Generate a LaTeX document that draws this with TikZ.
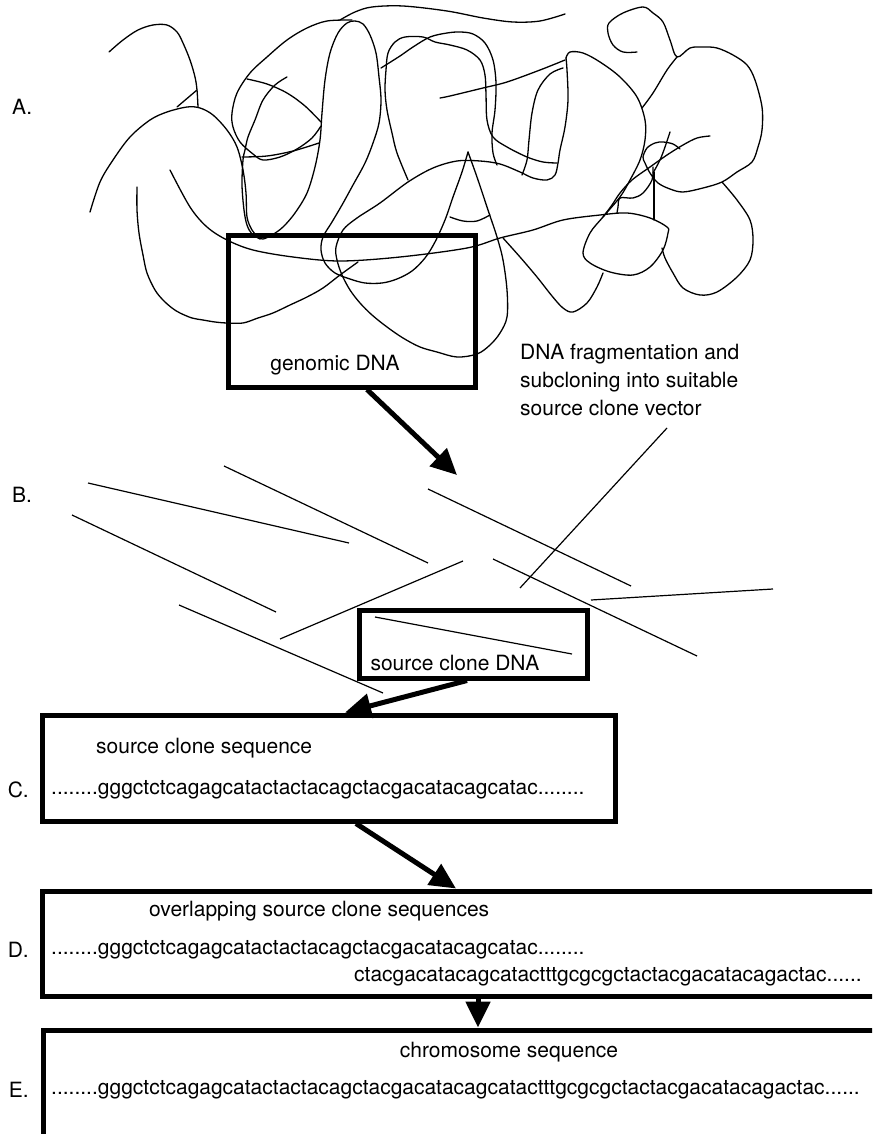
\documentclass[tikz,border=0pt]{standalone}
\usepackage{fontspec}
\setmainfont{TeX Gyre Heros}
\usetikzlibrary{arrows.meta,positioning}
\tikzset{>={Triangle[length=26pt,width=24pt]}}

\begin{document}
\begin{tikzpicture}[x=1pt,y=-1pt,
    strand/.style={line width=1.3pt,line join=round,line cap=round},
    fragment/.style={line width=1.2pt},
    stage/.style={draw,line width=5pt,inner sep=0pt},
    flow/.style={->,line width=5pt},
    txt/.style={font=\fontsize{21}{28}\selectfont,inner sep=0pt},
    node distance=22pt]
\path[use as bounding box,clip] (0,0) rectangle (872,1134);

% tangled genomic DNA
\draw[strand] plot[smooth,tension=0.55] coordinates {(109,52) (123,40) (138,30) (153,25) (167,25) (177,32) (183,43) (190,60) (195,77) (197,90) (198,107)};
\draw[strand] (177,107) -- (197,90);
\draw[strand] plot[smooth,tension=0.55] coordinates {(90,212) (100,182) (113,160) (130,137) (150,120) (167,112) (187,107) (200,108) (213,115) (227,130) (237,147) (243,170) (246,193) (247,217) (252,230) (258,237) (263,239) (272,235) (283,227) (295,213) (307,193) (315,167) (320,140) (322,113) (325,80) (330,53) (338,33) (347,23) (355,21) (363,24) (370,35) (376,53) (379,77) (381,100) (379,123) (373,143) (365,163) (353,185) (342,205) (332,222) (323,237) (321,250) (325,263) (335,273) (350,279) (365,283) (382,283) (397,279) (412,271) (425,258) (435,242) (445,220) (453,197) (462,172) (468,152)};
\draw[strand] plot[smooth,tension=0.55] coordinates {(468,152) (472,163) (478,180) (488,210) (497,237) (503,260) (507,290) (507,317) (500,333) (490,345) (477,354) (457,357) (437,352) (420,347) (403,338) (387,327) (372,315) (360,303) (350,290) (342,275) (337,260) (336,247) (343,230) (357,218) (380,203) (408,182) (433,168) (457,161) (480,161) (500,164) (520,172) (533,178) (547,180) (555,175) (558,163) (560,150) (565,127) (568,100) (567,70) (566,58)};
\draw[strand] plot[smooth,tension=0.55] coordinates {(566,58) (570,52) (583,53) (600,62) (620,77) (637,97) (645,120) (645,140) (640,160) (630,180) (620,197) (603,217) (590,233) (583,253) (590,263) (610,272) (633,275) (650,267) (663,250) (668,233) (667,227) (650,218) (627,213) (600,215) (563,220) (533,230) (500,238) (467,248) (400,257) (340,261) (293,257) (253,250) (227,240) (207,227) (190,207) (170,170)};
\draw[strand] plot[smooth,tension=0.55] coordinates {(137,187) (137,210) (139,233) (143,255) (147,273) (155,290) (163,300) (172,308) (180,313) (192,318) (203,320) (215,322) (227,323) (243,323) (258,318) (273,313) (290,305) (307,297) (323,288) (340,275) (358,262)};
\draw[strand] plot[smooth,tension=0.55] coordinates {(340,20) (355,12) (372,7) (403,6) (447,11) (483,18) (513,22) (540,21) (565,14)};
\draw[strand] plot[smooth,tension=0.55] coordinates {(352,20) (327,21) (307,28) (287,40) (267,57) (250,73) (237,93) (232,113) (233,127) (240,142) (253,154) (263,160) (280,157) (297,149) (312,138) (321,126)};
\draw[strand] plot[smooth,tension=0.55] coordinates {(247,79) (267,84) (287,93) (305,106) (321,122)};
\draw[strand] plot[smooth,tension=0.55] coordinates {(287,77) (275,85) (263,100) (255,120) (248,137) (245,150) (243,160) (242,185) (244,210) (247,225) (252,234) (260,239)};
\draw[strand] plot[smooth,tension=0.55] coordinates {(242,157) (267,156) (293,151) (319,143)};
\draw[strand] plot[smooth,tension=0.55] coordinates {(381,68) (400,56) (413,47) (430,37) (447,33) (460,32) (473,34) (485,43) (493,60) (496,83) (495,110) (492,133) (493,153) (497,165)};
\draw[strand] plot[smooth,tension=0.55] coordinates {(408,180) (397,153) (392,133) (387,110) (385,90) (386,70) (388,53) (395,42) (405,37) (423,37) (435,42) (450,45) (467,50) (480,60) (485,75) (486,95) (487,120) (493,137) (507,147) (527,157) (543,162) (557,163)};
\draw[strand] plot[smooth,tension=0.55] coordinates {(440,98) (450,96) (483,88) (507,82) (540,70) (565,60)};
\draw[strand] plot[smooth,tension=0.55] coordinates {(563,68) (550,74) (538,90) (532,113) (529,140) (527,160) (522,175)};
\draw[strand] plot[smooth,tension=0.55] coordinates {(637,52) (623,52) (613,45) (608,33) (609,23) (623,13) (643,7) (653,13) (663,22) (670,40) (677,57) (690,48) (703,47) (717,48) (733,55) (747,65) (755,80) (762,107) (762,130) (758,147) (752,162) (737,172) (722,182) (703,188) (683,192) (670,189) (658,183) (650,173) (645,163) (643,157) (647,148) (655,143) (663,142) (673,144) (680,149)};
\draw[strand] plot[smooth,tension=0.55] coordinates {(722,182) (737,200) (750,220) (753,240) (750,260) (737,277) (717,292) (700,295) (683,288) (673,273) (665,258) (662,248)};
\draw[strand] plot[smooth,tension=0.55] coordinates {(642,108) (653,93) (667,70) (677,57)};
\draw[strand] plot[smooth,tension=0.55] coordinates {(710,136) (697,138) (683,145) (667,155) (650,167) (632,180) (620,193) (612,205) (603,217)};
\draw[strand] plot[smooth,tension=0.55] coordinates {(670,132) (665,147) (660,160) (653,173)};
\draw[strand] plot[smooth,tension=0.55] coordinates {(653,167) (652,180) (643,193) (633,198) (620,198) (618,207) (617,213)};
\draw[strand] (654,172) -- (654,220);
\draw[strand] plot[smooth,tension=0.55] coordinates {(503,238) (520,257) (537,277) (552,296) (563,308) (573,312) (587,303) (597,287) (603,273)};
\draw[strand] plot[smooth,tension=0.55] coordinates {(450,217) (463,221) (477,221) (490,215)};

% fragments
\foreach \xa/\ya/\xb/\yb in {88/483/349/543, 224/466/428/563, 72/515/276/612,
    428/489/631/586, 463/561/280/639, 493/559/697/656, 179/605/383/693,
    591/600/773/589, 375/617/572/654}
  \draw[fragment] (\xa,\ya) -- (\xb,\yb);

\node[stage,minimum width=247pt,minimum height=152pt] (genomic) at (351.5,311) {};
\node[txt] (genomiclbl) at (335,365) {genomic DNA};
\node[txt,anchor=west,align=left] (fragnote) at (520,380)
  {DNA fragmentation and\\subcloning into suitable\\source clone vector};
\coordinate (leadtop) at (667,428);
\coordinate (leadend) at (520,588);
\draw[fragment] (leadtop) -- (leadend);

\node[stage,minimum width=228pt,minimum height=68pt] (srcbox) at (473,644) {};
\node[txt] (srclbl) at (455,663) {source clone DNA};

\node[stage,minimum width=573pt,minimum height=106pt] (cbox) at (328.5,768) {};
\node[stage,minimum width=843pt,minimum height=105pt] (dbox) at (463.5,943.5) {};
\node[stage,minimum width=842pt,minimum height=115pt] (ebox) at (464,1087.5) {};

\node[txt,anchor=west] (alabel) at (12,107) {A.};
\node[txt,anchor=west] (blabel) at (12,495) {B.};

\node[txt,anchor=west] (ctitle) at (96,748) {source clone sequence};
\node[txt,anchor=west] (cseq) at (51,790) {........gggctctcagagcatactactacagctacgacatacagcatac........};
\node[txt] (clabel) [left=of cseq] {C.};

\node[txt,anchor=west] (dtitle) at (149,911) {overlapping source clone sequences};
\node[txt,anchor=west] (dseq) at (51,950) {........gggctctcagagcatactactacagctacgacatacagcatac........};
\node[txt,anchor=west] (dseqb) at (354,977) {ctacgacatacagcatactttgcgcgctactacgacatacagactac......};
\node[txt] (dlabel) [left=of dseq] {D.};

\node[txt] (etitle) at (509,1052) {chromosome sequence};
\node[txt,anchor=west] (eseq) at (51,1090) {........gggctctcagagcatactactacagctacgacatacagcatactttgcgcgctactacgacatacagactac......};
\node[txt] (elabel) [left=of eseq] {E.};

\coordinate (cut) at (457,475);
\draw[flow] ([xshift=15.5pt]genomic.south) -- (cut);
\draw[flow] ([xshift=-6pt]srcbox.south) -- ([xshift=16.5pt]cbox.north);
\draw[flow] ([xshift=27.5pt]cbox.south) -- ([xshift=-7.5pt]dbox.north);
\draw[flow] ([xshift=14.5pt]dbox.south) -- ([xshift=14pt]ebox.north);
\end{tikzpicture}
\end{document}
